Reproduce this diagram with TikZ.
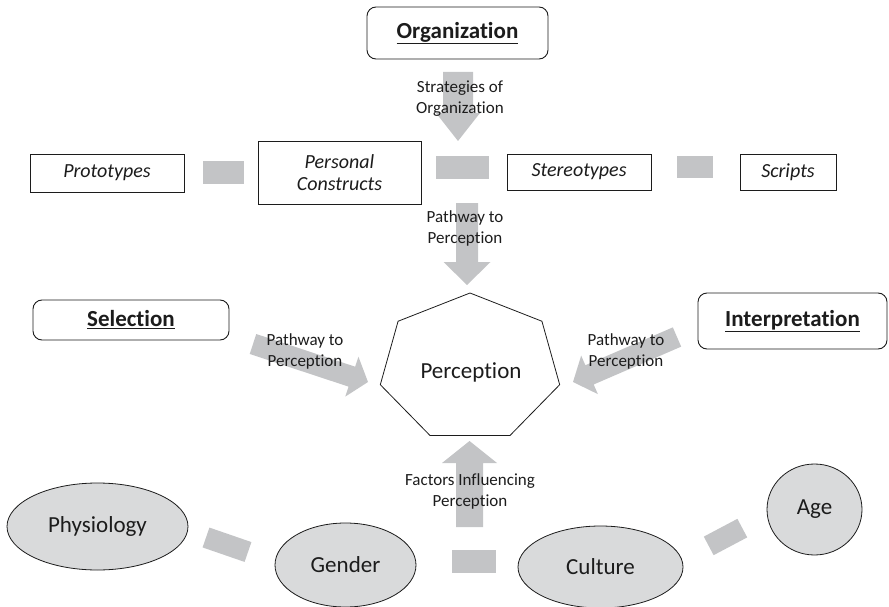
\documentclass[tikz,border=0pt]{standalone}
\usepackage{fontspec}
\setmainfont{Carlito}[Ligatures=NoCommon]
\usetikzlibrary{calc,shapes.geometric}

\definecolor{arrowgray}{HTML}{C3C4C6}
\definecolor{ovalgray}{HTML}{D9DADB}
\definecolor{ink}{HTML}{1C1C1C}

% block arrow from #1 to #2: half shaft width #3, half head width #4, head length #5
\newcommand\blockarrow[5]{%
  \coordinate (#1h) at ($(#2)!#5!(#1)$);
  \fill[arrowgray]
    ($(#1)!#3!90:(#2)$) -- ($(#1h)!#3!-90:(#1)$) -- ($(#1h)!#4!-90:(#1)$) --
    (#2) --
    ($(#1h)!#4!90:(#1)$) -- ($(#1h)!#3!90:(#1)$) -- ($(#1)!#3!-90:(#2)$) -- cycle;
}

\tikzset{
  headbox/.style={draw=ink, line width=0.9pt, rounded corners=9pt, fill=white,
    text=ink, font=\fontsize{23}{28}\selectfont\bfseries, inner sep=0pt},
  termbox/.style={draw=ink, line width=0.9pt, fill=white, text=ink, align=center,
    font=\fontsize{20}{22}\selectfont\itshape, inner sep=0pt},
  factor/.style={ellipse, draw=ink, line width=0.8pt, fill=ovalgray, text=ink,
    font=\fontsize{23}{28}\selectfont, inner sep=0pt},
  pathlabel/.style={text=ink, align=center, font=\fontsize{17}{21}\selectfont},
  bridge/.style={draw=arrowgray, line width=#1},
}

\begin{document}
\begin{tikzpicture}[x=1pt,y=-1pt]
\useasboundingbox (0,0) rectangle (889,607);

% ---- process boxes
\node[headbox, minimum width=181pt, minimum height=52pt] (org) at (457.5,33) {\underline{Organization}};
\node[headbox, minimum width=196pt, minimum height=40pt] (sel) at (131,320) {\underline{Selection}};
\node[headbox, minimum width=189pt, minimum height=56pt] (intp) at (792.5,321) {\underline{Interpretation}};

% ---- organization strategies
\node[termbox, minimum width=154pt, minimum height=38pt] (proto) at (107,173) {Prototypes};
\node[termbox, minimum width=163pt, minimum height=63pt] (pers) at (339.5,172.5) {Personal\\Constructs};
\node[termbox, minimum width=144pt, minimum height=36pt] (stereo) at (579,172) {Stereotypes};
\node[termbox, minimum width=96pt, minimum height=36pt] (scripts) at (788,172) {Scripts};

% ---- central percept
\coordinate (pc) at (470,368);
\draw[ink, line width=0.8pt, line join=miter]
  ({470+92*cos(90)},{368-75*sin(90)})
  \foreach \k in {1,...,6} { -- ({470+92*cos(90+360/7*\k)},{368-75*sin(90+360/7*\k)}) } -- cycle;
\node[text=ink, font=\fontsize{23}{28}\selectfont] (perc) at (471,372) {Perception};

% ---- influencing factors
\node[factor, minimum width=181pt, minimum height=87pt] (phys) at (97.5,526.5) {Physiology};
\node[factor, minimum width=141pt, minimum height=84pt] (gender) at (345.5,565) {Gender};
\node[factor, minimum width=165pt, minimum height=82pt] (culture) at (600.5,567) {Culture};
\node[factor, minimum width=95pt, minimum height=91pt] (age) at (814.5,509.5) {Age};

% ---- bridges between neighbouring items
\coordinate (b1a) at (203,172.5);   \coordinate (b1b) at (244,172.5);
\coordinate (b2a) at (436,167.5);   \coordinate (b2b) at (489,167.5);
\coordinate (b3a) at (677,167);     \coordinate (b3b) at (713,167);
\coordinate (b4a) at (206,537.5);   \coordinate (b4b) at (248,552);
\coordinate (b5a) at (452,561.5);   \coordinate (b5b) at (496,561.5);
\coordinate (b6a) at (708.7,545.9); \coordinate (b6b) at (742.3,528.1);
\draw[bridge=23pt] (b1a) -- (b1b);
\draw[bridge=23pt] (b2a) -- (b2b);
\draw[bridge=22pt] (b3a) -- (b3b);
\draw[bridge=21pt] (b4a) -- (b4b);
\draw[bridge=23pt] (b5a) -- (b5b);
\draw[bridge=21pt] (b6a) -- (b6b);

% ---- pathway arrows
\coordinate (a1s) at (458,72);    \coordinate (a1t) at (458,141);
\coordinate (a2s) at (467,203);   \coordinate (a2t) at (467,285);
\coordinate (a3s) at (253,344);   \coordinate (a3t) at (368,382);
\coordinate (a4s) at (677,337);   \coordinate (a4t) at (573,382);
\coordinate (a5s) at (469.5,527); \coordinate (a5t) at (469.5,441);
\blockarrow{a1s}{a1t}{15pt}{22pt}{28pt}
\blockarrow{a2s}{a2t}{11pt}{23.5pt}{23pt}
\blockarrow{a3s}{a3t}{10.5pt}{21pt}{17pt}
\blockarrow{a4s}{a4t}{10.5pt}{21pt}{18pt}
\blockarrow{a5s}{a5t}{13.5pt}{27.5pt}{22pt}

% ---- arrow labels
\node[pathlabel] (l1) at (460,99) {Strategies of\\Organization};
\node[pathlabel] (l2) at (465,228) {Pathway to\\Perception};
\node[pathlabel] (l3) at (305,351) {Pathway to\\Perception};
\node[pathlabel] (l4) at (626,351) {Pathway to\\Perception};
\node[pathlabel] (l5) at (470,491) {Factors Influencing\\Perception};
\end{tikzpicture}
\end{document}
